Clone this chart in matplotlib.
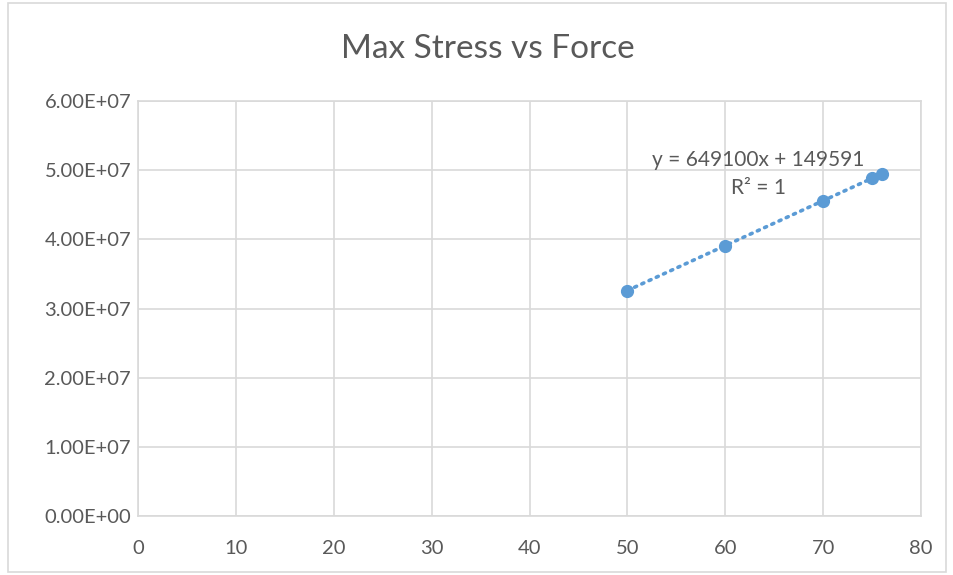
import matplotlib

matplotlib.use("Agg")

import numpy as np
import matplotlib.pyplot as plt
from matplotlib.patches import Rectangle
from matplotlib.ticker import FuncFormatter

plt.rcParams["font.family"] = ["Lato", "DejaVu Sans"]

force = [50, 60, 70, 75, 76]
max_stress = [32604591, 39095591, 45586591, 48832091, 49481191]

azul = "#5B9BD5"
cinza_texto = "#595959"
cinza_grade = "#D9D9D9"

fig = plt.figure(figsize=(9.54, 5.75), dpi=100)
ax = fig.add_axes([0.1447, 0.1026, 0.8207, 0.7217])

# borda do quadro do gráfico
fig.patches.append(Rectangle((0.008, 0.005), 0.984, 0.99, transform=fig.transFigure,
                             fill=False, edgecolor=cinza_grade, linewidth=1.2))

# linha de tendência linear
coef = np.polyfit(force, max_stress, 1)
xs = np.array([min(force), max(force)])
ax.plot(xs, np.polyval(coef, xs), color=azul, linestyle=(0, (0.6, 1.6)),
        linewidth=2.6, dash_capstyle="round", zorder=3)
ax.plot(force, max_stress, "o", color=azul, markersize=8.5, zorder=4)

ax.set_xlim(0, 80)
ax.set_ylim(0, 6e7)
ax.set_xticks(range(0, 81, 10))
ax.set_yticks(np.arange(0, 6.01e7, 1e7))
ax.yaxis.set_major_formatter(FuncFormatter(lambda v, p: f"{v:.2E}"))
ax.grid(True, color=cinza_grade, linewidth=1.2)
ax.set_axisbelow(True)
for s in ax.spines.values():
    s.set_color(cinza_grade)
    s.set_linewidth(1.2)
ax.tick_params(length=0, labelsize=14.5, labelcolor=cinza_texto)
ax.tick_params(axis="y", pad=5)
ax.tick_params(axis="x", pad=17)

fig.text(0.511, 0.915, "Max Stress vs Force", ha="center", va="center",
         fontsize=24, color=cinza_texto)

ax.text(63.4, 5.15e7, f"y = {coef[0]:.0f}x + {coef[1]:.0f}", ha="center",
        va="center", fontsize=15, color=cinza_texto)
ax.text(63.4, 4.74e7, "R² = 1", ha="center", va="center", fontsize=15,
        color=cinza_texto)

fig.savefig("out.png", dpi=100, facecolor="white")
